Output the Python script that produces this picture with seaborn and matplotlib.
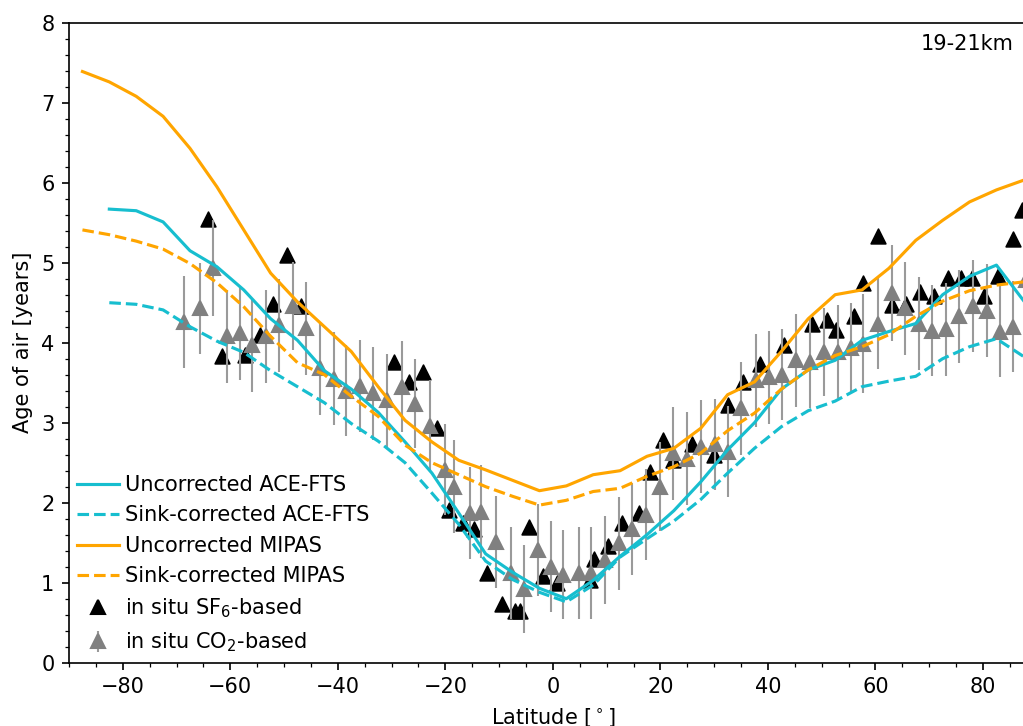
import numpy as np
import pandas as pd
import matplotlib
matplotlib.use("Agg")
import matplotlib.pyplot as plt
from matplotlib.ticker import AutoMinorLocator
from matplotlib.lines import Line2D
import seaborn as sns

# zonal mean bins of the satellite data
lat_mipas = [-87.5, -82.5, -77.5, -72.5, -67.5, -62.5, -57.5, -52.5, -47.5, -42.5,
             -37.5, -32.5, -27.5, -22.5, -17.5, -12.5, -7.5, -2.5, 2.5, 7.5,
             12.5, 17.5, 22.5, 27.5, 32.5, 37.5, 42.5, 47.5, 52.5, 57.5,
             62.5, 67.5, 72.5, 77.5, 82.5, 87.5]
mipas_uncorr = [7.39, 7.26, 7.08, 6.83, 6.43, 5.95, 5.41, 4.87, 4.51, 4.20,
                3.89, 3.45, 3.03, 2.76, 2.53, 2.41, 2.28, 2.15, 2.21, 2.35,
                2.40, 2.58, 2.68, 2.93, 3.35, 3.51, 3.89, 4.30, 4.60, 4.66,
                4.93, 5.28, 5.53, 5.76, 5.91, 6.03]
mipas_corr = [5.41, 5.35, 5.27, 5.17, 4.99, 4.75, 4.45, 4.08, 3.75, 3.60,
              3.33, 3.08, 2.72, 2.50, 2.35, 2.20, 2.08, 1.97, 2.03, 2.14,
              2.18, 2.33, 2.45, 2.62, 2.90, 3.12, 3.42, 3.66, 3.84, 3.95,
              4.10, 4.33, 4.52, 4.65, 4.72, 4.76]

lat_ace = [-82.5, -77.5, -72.5, -67.5, -62.5, -57.5, -52.5, -47.5, -42.5,
           -37.5, -32.5, -27.5, -22.5, -17.5, -12.5, -7.5, -2.5, 2.5, 7.5,
           12.5, 17.5, 22.5, 27.5, 32.5, 37.5, 42.5, 47.5, 52.5, 57.5,
           62.5, 67.5, 72.5, 77.5, 82.5, 87.5]
ace_uncorr = [5.67, 5.65, 5.51, 5.15, 4.95, 4.66, 4.30, 4.03, 3.65,
              3.42, 3.13, 2.76, 2.37, 1.87, 1.36, 1.13, 0.93, 0.80, 1.03,
              1.33, 1.60, 1.90, 2.26, 2.66, 3.00, 3.42, 3.66, 3.78, 4.03,
              4.14, 4.24, 4.60, 4.83, 4.97, 4.53]
ace_corr = [4.50, 4.48, 4.41, 4.20, 4.02, 3.88, 3.65, 3.45, 3.25,
            2.99, 2.77, 2.50, 2.12, 1.73, 1.27, 1.04, 0.88, 0.76, 0.97,
            1.32, 1.55, 1.77, 2.04, 2.37, 2.68, 2.95, 3.15, 3.27, 3.45,
            3.52, 3.58, 3.80, 3.95, 4.05, 3.83]

# in situ balloon / aircraft data
sf6_lat = [-64.1, -61.5, -57.3, -54.5, -52.0, -49.4, -46.8, -29.6, -26.7, -24.2,
           -21.6, -19.3, -16.7, -14.7, -12.2, -9.5, -7.1, -6.1, -4.4, -1.8,
           0.7, 6.9, 7.6, 10.3, 12.8, 16.1, 18.0, 20.5, 22.3, 25.8,
           30.0, 32.6, 35.3, 38.6, 43.0, 48.2, 50.9, 52.7, 56.1, 57.7,
           60.4, 63.0, 65.7, 68.2, 70.8, 73.4, 76.0, 77.9, 80.2, 82.8,
           85.5, 87.2]
sf6_age = [5.55, 3.83, 3.85, 4.10, 4.49, 5.10, 4.46, 3.76, 3.51, 3.63,
           2.94, 1.91, 1.74, 1.67, 1.12, 0.73, 0.65, 0.65, 1.69, 1.08,
           0.99, 1.03, 1.29, 1.46, 1.75, 1.87, 2.39, 2.79, 2.53, 2.73,
           2.60, 3.22, 3.51, 3.74, 3.97, 4.24, 4.29, 4.16, 4.33, 4.75,
           5.33, 4.47, 4.49, 4.64, 4.58, 4.81, 4.81, 4.81, 4.58, 4.83,
           5.30, 5.66]

co2_lat = [-68.6, -65.7, -63.3, -60.7, -58.2, -55.9, -53.3, -50.9, -48.4, -46.0,
           -43.3, -40.7, -38.5, -35.9, -33.4, -30.9, -28.0, -25.7, -22.8, -20.1,
           -18.4, -15.4, -13.3, -10.5, -7.7, -5.4, -2.7, -0.4, 1.9, 4.9,
           7.0, 9.7, 12.3, 14.8, 17.4, 19.9, 22.4, 24.9, 27.5, 30.1,
           32.5, 34.9, 37.8, 40.2, 42.7, 45.2, 47.8, 50.4, 53.1, 55.4,
           57.7, 60.4, 63.0, 65.5, 68.1, 70.6, 73.1, 75.5, 78.1, 80.7,
           83.2, 85.6, 88.0]
co2_age = [4.26, 4.43, 4.93, 4.08, 4.12, 3.97, 4.08, 4.22, 4.46, 4.18,
           3.68, 3.55, 3.40, 3.46, 3.37, 3.28, 3.45, 3.24, 2.96, 2.41,
           2.20, 1.87, 1.89, 1.51, 1.12, 0.92, 1.41, 1.20, 1.10, 1.12,
           1.12, 1.28, 1.49, 1.67, 1.85, 2.20, 2.62, 2.55, 2.70, 2.73,
           2.64, 3.18, 3.53, 3.57, 3.60, 3.78, 3.76, 3.89, 3.89, 3.94,
           3.99, 4.24, 4.62, 4.43, 4.24, 4.15, 4.17, 4.33, 4.46, 4.40,
           4.14, 4.20, 4.78]
co2_err = [0.58, 0.57, 0.60, 0.58, 0.58, 0.58, 0.58, 0.58, 0.55, 0.58,
           0.58, 0.58, 0.57, 0.58, 0.58, 0.58, 0.57, 0.56, 0.57, 0.57,
           0.58, 0.58, 0.58, 0.58, 0.58, 0.55, 0.58, 0.57, 0.56, 0.57,
           0.57, 0.55, 0.58, 0.58, 0.57, 0.56, 0.58, 0.58, 0.58, 0.57,
           0.57, 0.58, 0.58, 0.58, 0.57, 0.58, 0.58, 0.55, 0.58, 0.56,
           0.62, 0.57, 0.60, 0.58, 0.58, 0.57, 0.58, 0.58, 0.58, 0.58,
           0.57, 0.57, 0.57]

cyan = "#17becf"
orange = "orange"
ebar_col = "#9a9a9a"

DPI = 150
fig = plt.figure(figsize=(1023 / DPI, 726 / DPI), dpi=DPI)
ax = fig.add_axes([69 / 1023, 0.0872, 967.75 / 1023, 0.8815])

sns.scatterplot(x=sf6_lat, y=sf6_age, marker="^", color="black", s=50,
                edgecolor="black", linewidth=0.8, zorder=1.5, ax=ax)
ax.errorbar(co2_lat, co2_age, yerr=co2_err, fmt="^", color="gray", ms=6.7,
            ecolor=ebar_col, elinewidth=1, capsize=0, zorder=1.8)

sns.lineplot(x=lat_ace, y=ace_uncorr, color=cyan, lw=1.5, zorder=3, ax=ax)
sns.lineplot(x=lat_ace, y=ace_corr, color=cyan, lw=1.5, ls="--", zorder=3, ax=ax)
sns.lineplot(x=lat_mipas, y=mipas_uncorr, color=orange, lw=1.5, zorder=3, ax=ax)
sns.lineplot(x=lat_mipas, y=mipas_corr, color=orange, lw=1.5, ls="--", zorder=3, ax=ax)

ax.set_xlim(-90, 90)
ax.set_ylim(0, 8)
ax.set_xticks([-80, -60, -40, -20, 0, 20, 40, 60, 80])
ax.xaxis.set_minor_locator(AutoMinorLocator(4))
ax.yaxis.set_minor_locator(AutoMinorLocator(5))
ax.set_xlabel(r"Latitude [$^\circ$]")
ax.set_ylabel("Age of air [years]")
ax.text(68.5, 7.73, "19-21km", ha="left", va="center")

co2_handle = ax.errorbar([], [], yerr=[], fmt="^", color="gray", ms=6.7,
                         ecolor=ebar_col, elinewidth=1)
handles = [
    Line2D([], [], color=cyan, lw=1.5),
    Line2D([], [], color=cyan, lw=1.5, ls="--"),
    Line2D([], [], color=orange, lw=1.5),
    Line2D([], [], color=orange, lw=1.5, ls="--"),
    Line2D([], [], color="black", marker="^", ls="none", ms=6.7),
    co2_handle,
]
labels = ["Uncorrected ACE-FTS", "Sink-corrected ACE-FTS", "Uncorrected MIPAS",
          "Sink-corrected MIPAS", r"in situ SF$_6$-based", r"in situ CO$_2$-based"]
ax.legend(handles, labels, loc="lower left", frameon=False, borderaxespad=0,
          handletextpad=0.3, handlelength=2)

fig.savefig("out.png", dpi=DPI)
